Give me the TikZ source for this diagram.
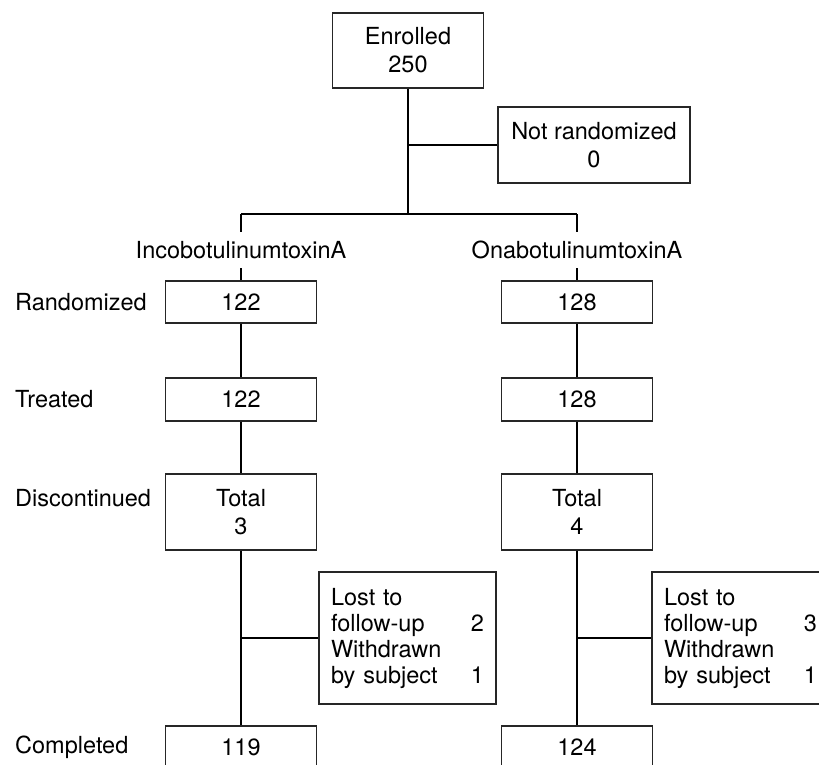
\documentclass[tikz,border=0pt]{standalone}
\usepackage{fontspec}
\setmainfont{TeX Gyre Heros}
\newcommand{\chartfont}{\fontsize{23.5}{28}\selectfont}
\newcommand{\sidefont}{\fontsize{23.5}{26}\selectfont}
\begin{document}
\begin{tikzpicture}[x=1pt, y=-1pt]
   \tikzstyle{bx} = [draw=black!85, line width=1.2pt, inner sep=0pt,
                     minimum width=151pt, align=center, font=\chartfont];
   \tikzstyle{sbx} = [draw=black!85, line width=1.2pt, inner xsep=12pt,
                      minimum height=132pt, text width=153pt, align=left,
                      font=\sidefont];
   \tikzstyle{lbl} = [inner sep=0pt, font=\chartfont];
   \tikzstyle{ln} = [black, line width=2.2pt, -];

   \useasboundingbox (0,0) rectangle (819,764);
   \clip (0,0) rectangle (819,764);

    \node[bx, minimum height=75pt] (enr) at (408,50.5) {Enrolled\\250};
    \node[bx, minimum width=192pt, minimum height=76pt] (nr)
          at (594,145) {Not randomized\\0};

    \coordinate (j0) at (408,145);
    \coordinate (bm) at (408,214);
    \coordinate (bl) at (241,214);
    \coordinate (br) at (577,214);

    \node[lbl, minimum height=36pt] (inco) at (241,250) {IncobotulinumtoxinA};
    \node[lbl, minimum height=36pt] (ona) at (577,250) {OnabotulinumtoxinA};

    % left arm
    \node[bx, minimum height=42pt] (r1) at (241,302) {122};
    \node[bx, minimum height=43pt] (t1) at (241,399.5) {122};
    \node[bx, minimum height=76pt] (d1) at (241,512) {Total\\3};
    \node[sbx] (s1) at (407.5,638)
          {Lost to\\follow-up\hfill 2\\Withdrawn\\by subject\hfill 1};
    \node[bx, minimum height=43pt] (c1) at (241,747.5) {119};
    \coordinate (j1) at (241,638);

    % right arm
    \node[bx, minimum height=42pt] (r2) at (577,302) {128};
    \node[bx, minimum height=43pt] (t2) at (577,399.5) {128};
    \node[bx, minimum height=76pt] (d2) at (577,512) {Total\\4};
    \node[sbx] (s2) at (740.5,638)
          {Lost to\\follow-up\hfill 3\\Withdrawn\\by subject\hfill 1};
    \node[bx, minimum height=43pt] (c2) at (577,747.5) {124};
    \coordinate (j2) at (577,638);

    % row labels
    \node[lbl, anchor=west] (lr) at (15,302) {Randomized};
    \node[lbl, anchor=west] (lt) at (15,399.5) {Treated};
    \node[lbl, anchor=base west] (ld) at (15,506) {Discontinued};
    \node[lbl, anchor=west] (lc) at (15,747.5) {Completed};

    \draw[ln] (enr.south) -- (bm);
    \draw[ln] (j0) -- (nr.west);
    \draw[ln] (bl) -- (br);
    \draw[ln] (bl) -- (inco.north);
    \draw[ln] (br) -- (ona.north);

    \draw[ln] (inco.south) -- (r1.north);
    \draw[ln] (r1) -- (t1);
    \draw[ln] (t1) -- (d1);
    \draw[ln] (d1) -- (c1);
    \draw[ln] (j1) -- (s1.west);

    \draw[ln] (ona.south) -- (r2.north);
    \draw[ln] (r2) -- (t2);
    \draw[ln] (t2) -- (d2);
    \draw[ln] (d2) -- (c2);
    \draw[ln] (j2) -- (s2.west);
  \end{tikzpicture}
\end{document}
